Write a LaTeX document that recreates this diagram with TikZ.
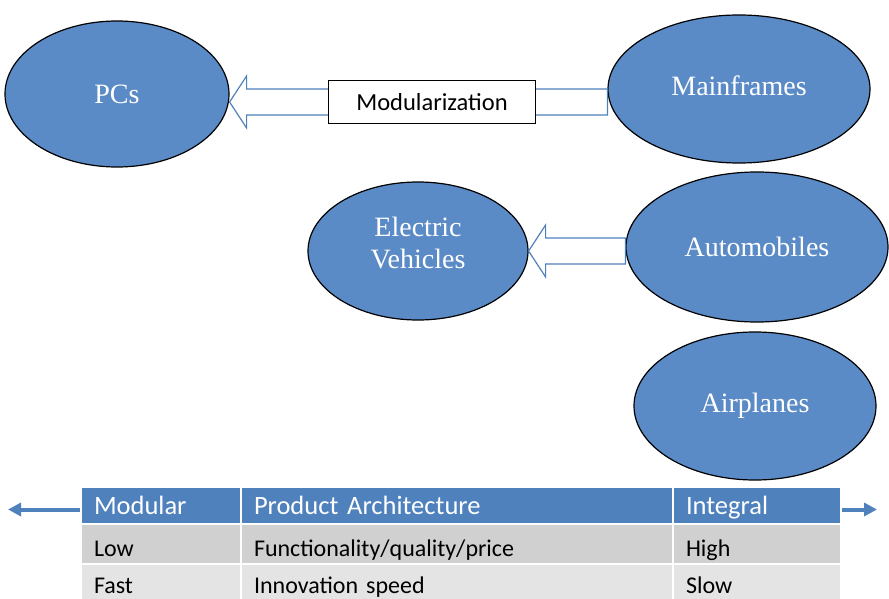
\documentclass[tikz,border=0pt]{standalone}
\usepackage{fontspec}
\setmainfont{Liberation Serif}
\newfontfamily\tabfont{Carlito}
\usetikzlibrary{positioning,shapes.geometric,arrows.meta,calc}
\definecolor{ovalblue}{HTML}{5B8BC6}
\definecolor{headblue}{HTML}{4F81BD}
\definecolor{rowgray}{HTML}{CFD0CF}
\definecolor{rowlight}{HTML}{E4E4E4}

\begin{document}
\begin{tikzpicture}[x=1pt,y=-1pt,>={Triangle[length=13pt,width=13pt]},
    oval/.style={ellipse,draw=black,line width=1.2pt,fill=ovalblue,text=white,
      font=\fontsize{28}{32}\selectfont,align=center,inner sep=0pt},
    hollow/.style={draw=headblue,line width=1.2pt,fill=white,line join=miter},
    cell/.style={anchor=north west,draw=white,line width=2pt,inner xsep=13pt,
      inner ysep=0pt,align=left,text height=26pt,text depth=2pt,minimum height=40pt,
      font=\tabfont\fontsize{24}{28}\selectfont},
    headcell/.style={cell,fill=headblue,text=white,minimum height=37pt,
      text height=19pt,font=\tabfont\fontsize{26.5}{30}\selectfont},
    lastcell/.style={cell,fill=rowlight,text height=25pt,text depth=6pt},
  ]
  \useasboundingbox (0,0) rectangle (889,599);
  % ovals
  \node[oval,minimum width=224pt,minimum height=146pt] (pcs) at (117,94) {PCs};
  \node[oval,minimum width=262pt,minimum height=148pt,text depth=6pt] (mf) at (739,89) {Mainframes};
  \node[oval,minimum width=220pt,minimum height=138pt,text depth=16pt] (ev) at (418,251) {Electric\\Vehicles};
  \node[oval,minimum width=262pt,minimum height=150pt] (auto) at (757,247) {Automobiles};
  \node[oval,minimum width=242pt,minimum height=148pt] (air) at (755,406) {Airplanes};
  % hollow arrows
  \coordinate (tipA) at ([yshift=-8pt]pcs.east);
  \draw[hollow] (tipA) -- ++(17,-26) -- ++(0,13) -- ($(tipA -| mf.west)+(0,-13)$)
    -- ++(0,26) -- ($(tipA)+(17,13)$) -- ++(0,13) -- cycle;
  \node[draw=black,line width=1.2pt,fill=white,minimum width=207pt,minimum height=43pt,
    font=\tabfont\fontsize{24.5}{26}\selectfont] (modbox) at (432,102) {Modularization};
  \coordinate (tipB) at (ev.east);
  \draw[hollow] (tipB) -- ++(17,-26) -- ++(0,13) -- ($(tipB -| auto.west)+(0,-13)$)
    -- ++(0,26) -- ($(tipB)+(17,13)$) -- ++(0,13) -- cycle;
  % table
  \node[headcell,text width=134pt] (hmod) at (80,486) {Modular};
  \node[headcell,text width=406pt] (harch) at (240,486) {Product Architecture};
  \node[headcell,text width=142pt] (hint) at (672,486) {Integral};
  \node[cell,fill=rowgray,text width=134pt] (low) at (80,523) {Low};
  \node[cell,fill=rowgray,text width=406pt] (func) at (240,523) {Functionality/quality/price};
  \node[cell,fill=rowgray,text width=142pt] (high) at (672,523) {High};
  \node[lastcell,text width=134pt] (fast) at (80,563) {Fast};
  \node[lastcell,text width=406pt] (speed) at (240,563) {Innovation speed};
  \node[lastcell,text width=142pt] (slow) at (672,563) {Slow};
  % side arrows
  \draw[->,headblue,line width=4pt] ([yshift=-4pt]hmod.west) -- ++(-72,0);
  \draw[->,headblue,line width=4pt] ([yshift=-4pt]hint.east) -- ++(35,0);
\end{tikzpicture}
\end{document}
